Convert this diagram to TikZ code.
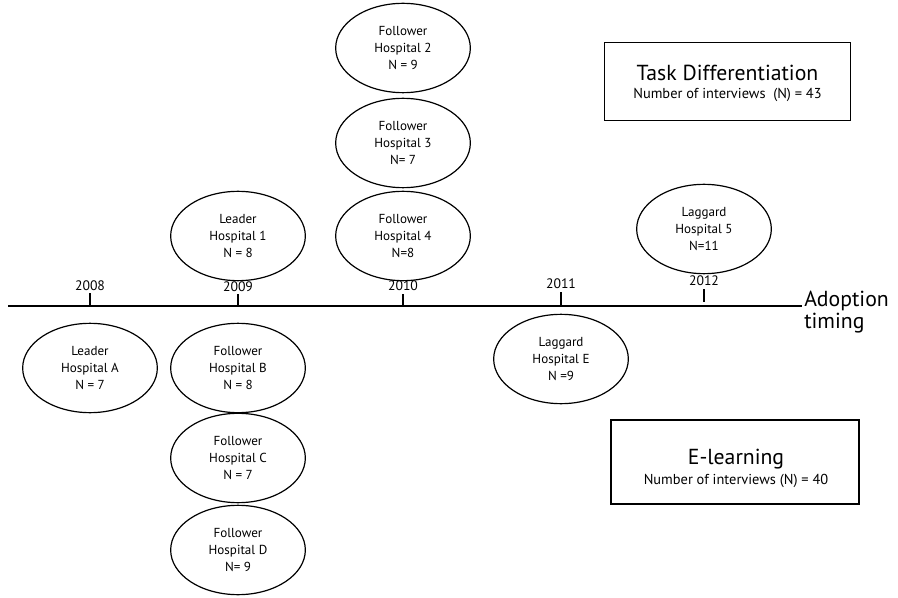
\documentclass[tikz,border=0pt]{standalone}
\usepackage{fontspec}
\setmainfont{PT Sans}
\usetikzlibrary{shapes.geometric}
\begin{document}
\begin{tikzpicture}[x=0.75pt,y=-0.75pt,
  hosp/.style={draw,line width=0.9pt,ellipse,minimum width=101pt,minimum height=67pt,inner sep=0pt,align=center,font=\fontsize{9.8}{12.8}\selectfont},
  yr/.style={font=\fontsize{10.3}{11}\selectfont},
  tick/.style={line width=1.1pt},
  infobox/.style={draw,line width=0.9pt,align=center,inner sep=0pt}]
\useasboundingbox (0,0) rectangle (898,598);
% timeline
\coordinate (tl0) at (8,306);
\coordinate (tl1) at (802,306);
\draw[line width=1.3pt] (tl0) -- (tl1);
\node[anchor=west,align=left,font=\fontsize{16.3}{17}\selectfont,inner sep=0pt] (adopt) at (804,312) {Adoption\\timing};
% ticks
\coordinate (t8a) at (90,293); \coordinate (t8b) at (90,306);
\coordinate (t9a) at (238,294); \coordinate (t9b) at (238,306);
\coordinate (t10a) at (403,294); \coordinate (t10b) at (403,306);
\coordinate (t11a) at (561,292); \coordinate (t11b) at (561,306);
\coordinate (t12a) at (704,289); \coordinate (t12b) at (704,302);
\draw[tick] (t8a) -- (t8b);
\draw[tick] (t9a) -- (t9b);
\draw[tick] (t10a) -- (t10b);
\draw[tick] (t11a) -- (t11b);
\draw[tick] (t12a) -- (t12b);
\node[yr] (y8) at (90,286) {2008};
\node[yr] (y9) at (238,287) {2009};
\node[yr] (y10) at (403,286) {2010};
\node[yr] (y11) at (561,284) {2011};
\node[yr] (y12) at (704,281) {2012};
% upper hospitals
\node[hosp] (f2) at (403,48) {Follower\\Hospital 2\\N = 9};
\node[hosp] (f3) at (403,143) {Follower\\Hospital 3\\N= 7};
\node[hosp] (f4) at (403,236) {Follower\\Hospital 4\\N=8};
\node[hosp] (l1) at (238,236) {Leader\\Hospital 1\\N = 8};
\node[hosp] (g5) at (704,229) {Laggard\\Hospital 5\\N=11};
% lower hospitals
\node[hosp] (la) at (90,368) {Leader\\Hospital A\\N = 7};
\node[hosp] (fb) at (238,368) {Follower\\Hospital B\\N = 8};
\node[hosp] (fc) at (238,458) {Follower\\Hospital C\\N = 7};
\node[hosp] (fd) at (238,550) {Follower\\Hospital D\\N= 9};
\node[hosp] (ge) at (561,359) {Laggard\\Hospital E\\N =9};
% boxes
\node[infobox,minimum width=184pt,minimum height=59pt] (td) at (727.5,81.5) {};
\node[align=center,inner sep=0pt] (tdt) at (727.5,83) {{\fontsize{16.3}{18}\selectfont Task Differentiation}\\[1.5pt]{\fontsize{10.8}{12}\selectfont Number of interviews~~(N) = 43}};
\node[infobox,minimum width=186pt,minimum height=63pt] (el) at (735,462) {};
\node[align=center,inner sep=0pt] (elt) at (736,468) {{\fontsize{16.3}{18}\selectfont E-learning}\\[3pt]{\fontsize{10.8}{12}\selectfont Number of interviews (N) = 40}};
\end{tikzpicture}
\end{document}
